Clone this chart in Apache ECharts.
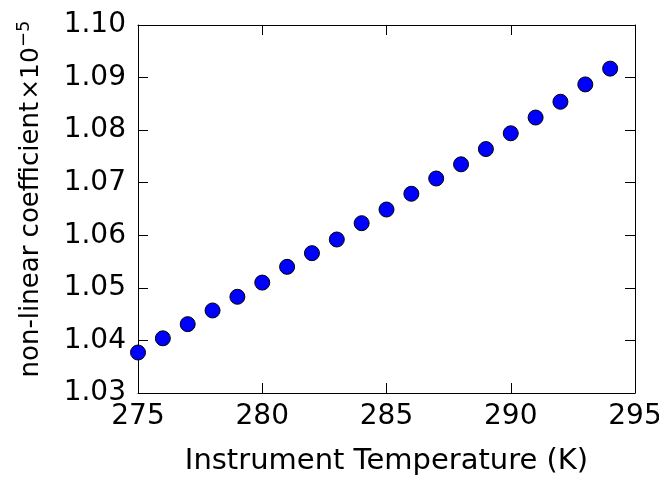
<!DOCTYPE html>
<html>
<head>
<meta charset="utf-8">
<script src="https://cdn.jsdelivr.net/npm/echarts@6/dist/echarts.min.js"></script>
<style>html,body{margin:0;padding:0;background:#fff}#c{width:659px;height:477px}</style>
</head>
<body>
<div id="c"></div>
<script>
var temperatures = [275,276,277,278,279,280,281,282,283,284,285,286,287,288,289,290,291,292,293,294];
var coefficients = [1.0377,1.0404,1.0431,1.0457,1.0483,1.0510,1.0540,1.0566,1.0592,1.0623,1.0649,1.0679,1.0708,1.0735,1.0764,1.0794,1.0824,1.0854,1.0887,1.0917];
var xTicks = [275,280,285,290,295];
var yTicks = [1.03,1.04,1.05,1.06,1.07,1.08,1.09,1.10];
var xLabel = 'Instrument Temperature (K)';
var yLabel = 'non-linear coefficient';

var FONT = 'DejaVu Sans';
var chart = echarts.init(document.getElementById('c'), null, {renderer:'canvas'});
var data = temperatures.map(function(t,i){return [t, coefficients[i]];});
var baseAxis = {
  axisLine:{show:true, lineStyle:{color:'#000', width:1}},
  axisTick:{show:true, inside:true, length:10, lineStyle:{color:'#000', width:1}},
  splitLine:{show:false}
};
chart.setOption({
  animation:false,
  grid:{left:138, right:24, top:25, bottom:84, show:false, containLabel:false, outerBoundsMode:'none'},
  xAxis:[
    Object.assign({}, baseAxis, {type:'value', position:'bottom', min:xTicks[0], max:xTicks[xTicks.length-1], interval:5,
      axisLabel:{fontFamily:FONT, fontSize:28, color:'#000', margin:10},
      name:xLabel, nameLocation:'middle', nameGap:54, nameTextStyle:{fontFamily:FONT, fontSize:29, color:'#000'}}),
    Object.assign({}, baseAxis, {type:'value', position:'top', min:xTicks[0], max:xTicks[xTicks.length-1], interval:5,
      axisLabel:{show:false}})
  ],
  yAxis:[
    Object.assign({}, baseAxis, {type:'value', position:'left', min:yTicks[0], max:yTicks[yTicks.length-1], interval:0.01,
      axisLabel:{fontFamily:FONT, fontSize:28, color:'#000', margin:12, padding:[0,0,3,0], formatter:function(v){return v.toFixed(2);}}}),
    Object.assign({}, baseAxis, {type:'value', position:'right', min:yTicks[0], max:yTicks[yTicks.length-1], interval:0.01,
      axisLabel:{show:false}})
  ],
  graphic:[{
    type:'text', x:31, y:199, rotation:Math.PI/2,
    style:{
      text:'{a|' + yLabel + '}{b|×10}{c|−5}',
      align:'center', verticalAlign:'middle',
      rich:{
        a:{fontFamily:FONT, fontSize:26, fill:'#000'},
        b:{fontFamily:FONT, fontSize:25, fill:'#000', padding:[0,0,0,2]},
        c:{fontFamily:FONT, fontSize:18, fill:'#000', verticalAlign:'top', padding:[0,0,14,0]}
      }
    }
  }],
  series:[{
    type:'scatter', xAxisIndex:0, yAxisIndex:0, data:data, symbol:'circle', symbolSize:15, clip:true,
    itemStyle:{color:'#0000ff', borderColor:'#000', borderWidth:1, opacity:1}
  }]
});
</script>
</body>
</html>
